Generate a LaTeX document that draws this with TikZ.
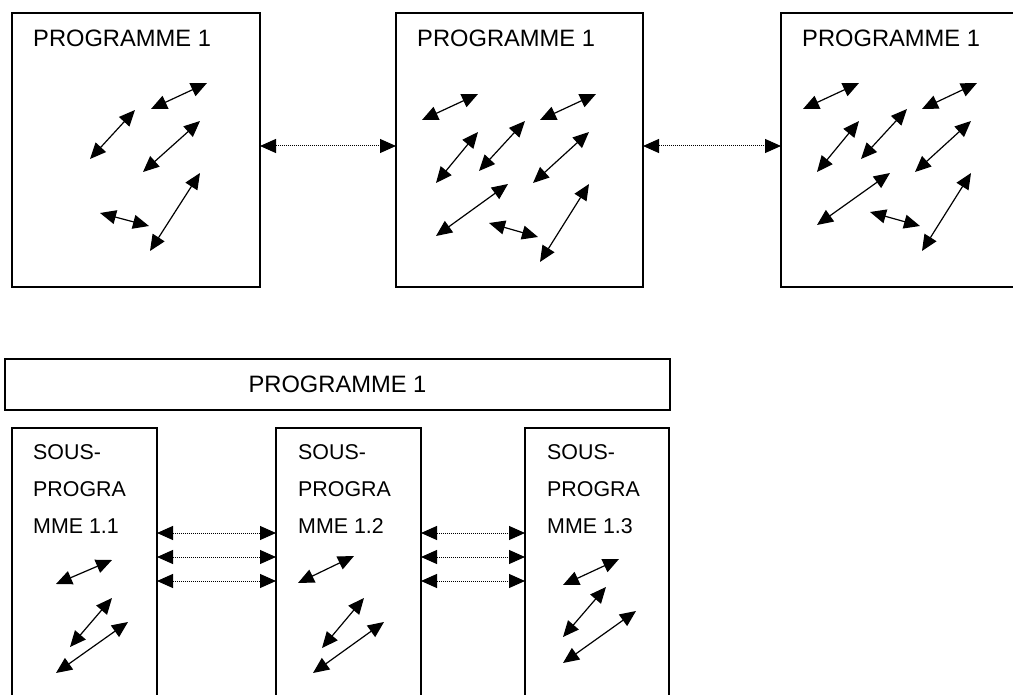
\documentclass[tikz,border=0pt]{standalone}
\usepackage{fontspec}
\setmainfont{Liberation Sans}
\usepackage{tikz}
\usetikzlibrary{arrows.meta}
\newcommand{\boxWidth}[0]{1.5pt}
\newcommand{\tipLength}[0]{16pt}
\newcommand{\tipWidth}[0]{14pt}

\begin{document}
\begin{tikzpicture}[x=1pt, y=-1pt]
  \tikzset{progbox/.style={draw, line width=\boxWidth, inner sep=0pt, outer sep=0pt},
    boxtitle/.style={inner sep=0pt, font=\fontsize{23.7pt}{28pt}\selectfont},
    subtitle/.style={inner sep=0pt, font=\fontsize{21.4pt}{37pt}\selectfont, align=left},
    biarrow/.style={line width=1.2pt, {Triangle[length=\tipLength, width=\tipWidth]}-{Triangle[length=\tipLength, width=\tipWidth]}},
    linkarrow/.style={line width=1pt, dash pattern=on 1pt off 1pt, {Triangle[length=\tipLength, width=\tipWidth]}-{Triangle[length=\tipLength, width=\tipWidth]}}}
  \useasboundingbox (0,0) rectangle (1013,695);
  % top row
  \node[progbox, minimum width=248, minimum height=274] (prog-1) at (136,150) {};
  \node[progbox, minimum width=247, minimum height=274] (prog-2) at (519.5,150) {};
  \node[progbox, minimum width=260, minimum height=274] (prog-3) at (911,150) {};
  \node[boxtitle, anchor=base west] (title-1) at ([shift={(21,34)}]prog-1.north west) {PROGRAMME 1};
  \node[boxtitle, anchor=base west] (title-2) at ([shift={(21,34)}]prog-2.north west) {PROGRAMME 1};
  \node[boxtitle, anchor=base west] (title-3) at ([shift={(21,34)}]prog-3.north west) {PROGRAMME 1};
  \draw[linkarrow] ([yshift=4pt]prog-1.east) -- ([yshift=4pt]prog-2.west);
  \draw[linkarrow] ([yshift=4pt]prog-2.east) -- ([yshift=4pt]prog-3.west);
  % arrows inside the boxes
  \draw[biarrow] (90,159) -- (135,110);
  \draw[biarrow] (151,109) -- (207,83);
  \draw[biarrow] (143,172) -- (200,121);
  \draw[biarrow] (100,213) -- (149,226);
  \draw[biarrow] (150,251) -- (200,173);
  \draw[biarrow] (422,120) -- (478,94);
  \draw[biarrow] (436,183) -- (478,132);
  \draw[biarrow] (479,171) -- (525,121);
  \draw[biarrow] (540,120) -- (596,94);
  \draw[biarrow] (533,183) -- (589,132);
  \draw[biarrow] (436,236) -- (508,184);
  \draw[biarrow] (489,223) -- (538,237);
  \draw[biarrow] (540,262) -- (589,184);
  \draw[biarrow] (803,109) -- (859,83);
  \draw[biarrow] (817,172) -- (859,121);
  \draw[biarrow] (861,159) -- (907,109);
  \draw[biarrow] (922,109) -- (977,83);
  \draw[biarrow] (915,172) -- (971,121);
  \draw[biarrow] (817,225) -- (890,173);
  \draw[biarrow] (870,212) -- (920,226);
  \draw[biarrow] (922,251) -- (971,173);
  % bottom row
  \node[progbox, minimum width=665, minimum height=51] (prog-main) at (337.5,384.5) {};
  \node[boxtitle] (title-main) at (prog-main) {PROGRAMME 1};
  \node[progbox, minimum width=145, minimum height=292] (sub-1) at (84.5,574) {};
  \node[progbox, minimum width=145, minimum height=292] (sub-2) at (348.5,574) {};
  \node[progbox, minimum width=144, minimum height=292] (sub-3) at (597,574) {};
  \node[subtitle, anchor=base west] (subtitle-1) at ([shift={(21,105)}]sub-1.north west) {SOUS-\\PROGRA\\MME 1.1};
  \node[subtitle, anchor=base west] (subtitle-2) at ([shift={(22,105)}]sub-2.north west) {SOUS-\\PROGRA\\MME 1.2};
  \node[subtitle, anchor=base west] (subtitle-3) at ([shift={(22,105)}]sub-3.north west) {SOUS-\\PROGRA\\MME 1.3};
  \draw[linkarrow] ([yshift=41pt]sub-1.east) -- ([yshift=41pt]sub-2.west);
  \draw[linkarrow] ([yshift=17pt]sub-1.east) -- ([yshift=17pt]sub-2.west);
  \draw[linkarrow] ([yshift=-7pt]sub-1.east) -- ([yshift=-7pt]sub-2.west);
  \draw[linkarrow] ([yshift=41pt]sub-2.east) -- ([yshift=41pt]sub-3.west);
  \draw[linkarrow] ([yshift=17pt]sub-2.east) -- ([yshift=17pt]sub-3.west);
  \draw[linkarrow] ([yshift=-7pt]sub-2.east) -- ([yshift=-7pt]sub-3.west);
  \draw[biarrow] (56,584) -- (112,560);
  \draw[biarrow] (70,647) -- (112,598);
  \draw[biarrow] (56,673) -- (128,622);
  \draw[biarrow] (298,583) -- (354,556);
  \draw[biarrow] (322,648) -- (364,598);
  \draw[biarrow] (313,673) -- (384,622);
  \draw[biarrow] (563,585) -- (619,559);
  \draw[biarrow] (563,637) -- (606,587);
  \draw[biarrow] (563,663) -- (636,611);
\end{tikzpicture}
\end{document}
